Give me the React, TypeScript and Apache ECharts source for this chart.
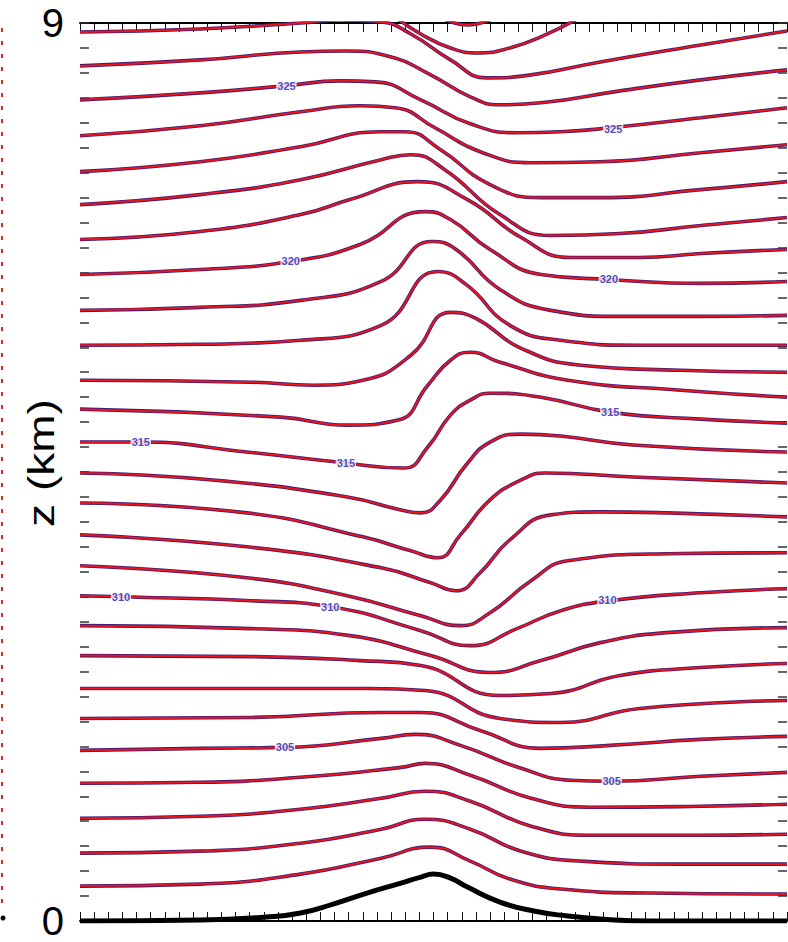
import React, { useEffect, useRef } from "react";
import * as echarts from "echarts";

// Isentropes (potential temperature, K) over a ridge: [distance km, height km]
const theta301: [number, number][] = [[-250, 0.35], [-165, 0.37], [-94, 0.47], [-37, 0.63], [-2, 0.74], [26, 0.6], [54, 0.42], [90, 0.32], [153, 0.28], [250, 0.27]];
const theta302: [number, number][] = [[-250, 0.68], [-165, 0.7], [-94, 0.78], [-37, 0.92], [-6, 1.02], [26, 0.92], [62, 0.7], [104, 0.6], [175, 0.57], [250, 0.57]];
const theta303: [number, number][] = [[-250, 1.03], [-165, 1.05], [-94, 1.12], [-37, 1.23], [-6, 1.3], [26, 1.2], [69, 0.95], [111, 0.86], [189, 0.86], [250, 0.87]];
const theta304: [number, number][] = [[-250, 1.38], [-165, 1.39], [-94, 1.44], [-23, 1.54], [-6, 1.58], [26, 1.46], [69, 1.23], [111, 1.14], [189, 1.15], [250, 1.17]];
const theta305: [number, number][] = [[-250, 1.71], [-165, 1.73], [-105, 1.74], [-37, 1.83], [-13, 1.87], [19, 1.76], [62, 1.53], [97, 1.41], [125, 1.4], [189, 1.45], [250, 1.49]];
const theta306: [number, number][] = [[-250, 2.03], [-129, 2.04], [-37, 2.09], [-9, 2.09], [33, 1.91], [76, 1.73], [125, 1.76], [189, 1.82], [250, 1.85]];
const theta307: [number, number][] = [[-250, 2.33], [-129, 2.33], [-45, 2.33], [-6, 2.31], [47, 2.03], [90, 1.99], [146, 2.13], [250, 2.21]];
const theta308: [number, number][] = [[-250, 2.66], [-129, 2.65], [-52, 2.61], [-9, 2.56], [47, 2.26], [83, 2.28], [132, 2.46], [189, 2.54], [250, 2.58]];
const theta309: [number, number][] = [[-250, 2.96], [-129, 2.93], [-59, 2.86], [-2, 2.66], [40, 2.49], [76, 2.61], [118, 2.79], [165, 2.89], [250, 2.94]];
const theta310: [number, number][] = [[-250, 3.26], [-221, 3.25], [-129, 3.21], [-73, 3.15], [-9, 2.91], [26, 2.76], [59, 2.93], [90, 3.11], [125, 3.21], [189, 3.29], [250, 3.33]];
const theta311: [number, number][] = [[-250, 3.56], [-132, 3.44], [-61, 3.26], [-9, 3.06], [19, 2.96], [40, 3.09], [69, 3.41], [95, 3.61], [165, 3.68], [250, 3.69]];
const theta312: [number, number][] = [[-250, 3.87], [-132, 3.75], [-37, 3.54], [-2, 3.39], [16, 3.31], [33, 3.49], [54, 3.82], [83, 4.07], [118, 4.1], [165, 4.09], [250, 4.05]];
const theta313: [number, number][] = [[-250, 4.19], [-132, 4.09], [-50, 3.85], [-16, 3.71], [3, 3.64], [19, 3.87], [40, 4.22], [62, 4.42], [79, 4.49], [141, 4.45], [250, 4.39]];
const theta314: [number, number][] = [[-250, 4.49], [-156, 4.42], [-61, 4.25], [-23, 4.12], [-9, 4.09], [5, 4.22], [23, 4.57], [40, 4.8], [62, 4.88], [90, 4.86], [141, 4.77], [250, 4.7]];
const theta315: [number, number][] = [[-250, 4.8], [-207, 4.8], [-132, 4.7], [-68, 4.6], [-21, 4.54], [-4, 4.75], [12, 5.07], [26, 5.22], [40, 5.29], [76, 5.25], [125, 5.1], [189, 5.03], [250, 4.99]];
const theta316: [number, number][] = [[-250, 5.13], [-108, 5.05], [-61, 4.97], [-25, 5.02], [-4, 5.37], [12, 5.62], [26, 5.7], [47, 5.6], [95, 5.42], [175, 5.32], [250, 5.25]];
const theta317: [number, number][] = [[-250, 5.42], [-129, 5.4], [-85, 5.37], [-50, 5.42], [-16, 5.67], [12, 6.1], [30, 6.04], [62, 5.74], [104, 5.57], [175, 5.52], [250, 5.5]];
const theta318: [number, number][] = [[-250, 5.77], [-165, 5.78], [-94, 5.82], [-37, 5.97], [3, 6.51], [23, 6.38], [54, 5.97], [90, 5.82], [146, 5.77], [250, 5.77]];
const theta319: [number, number][] = [[-250, 6.12], [-165, 6.15], [-94, 6.22], [-37, 6.41], [-1, 6.81], [16, 6.73], [47, 6.33], [83, 6.12], [132, 6.06], [189, 6.06], [250, 6.07]];
const theta320: [number, number][] = [[-250, 6.48], [-165, 6.53], [-101, 6.61], [-52, 6.78], [-6, 7.11], [12, 7.03], [40, 6.73], [76, 6.48], [124, 6.43], [189, 6.39], [250, 6.41]];
const theta321: [number, number][] = [[-250, 6.83], [-165, 6.91], [-94, 7.08], [-59, 7.23], [-11, 7.41], [24, 7.23], [62, 6.85], [97, 6.65], [146, 6.65], [189, 6.69], [250, 6.73]];
const theta322: [number, number][] = [[-250, 7.18], [-165, 7.28], [-94, 7.43], [-37, 7.63], [-16, 7.68], [8, 7.53], [47, 7.08], [83, 6.87], [132, 6.89], [189, 6.97], [250, 7.05]];
const theta323: [number, number][] = [[-250, 7.51], [-165, 7.61], [-94, 7.76], [-37, 7.91], [-20, 7.91], [5, 7.73], [40, 7.38], [76, 7.25], [118, 7.25], [189, 7.33], [250, 7.41]];
const theta324: [number, number][] = [[-250, 7.87], [-165, 7.97], [-94, 8.11], [-52, 8.17], [-27, 8.15], [1, 7.95], [33, 7.71], [69, 7.6], [118, 7.61], [189, 7.7], [250, 7.78]];
const theta325: [number, number][] = [[-250, 8.23], [-165, 8.3], [-105, 8.37], [-66, 8.42], [-41, 8.41], [-9, 8.23], [26, 7.99], [59, 7.9], [90, 7.91], [125, 7.95], [189, 8.05], [250, 8.15]];
const theta326: [number, number][] = [[-250, 8.57], [-165, 8.63], [-94, 8.71], [-62, 8.72], [-30, 8.66], [-2, 8.48], [26, 8.26], [47, 8.18], [76, 8.2], [132, 8.32], [189, 8.43], [250, 8.53]];
const theta327: [number, number][] = [[-250, 8.91], [-165, 8.94], [-94, 9.0], [-66, 9.03], [-37, 9.01], [-16, 8.89], [12, 8.63], [38, 8.45], [69, 8.48], [118, 8.61], [189, 8.78], [250, 8.92]];
const theta328: [number, number][] = [[-27, 9.06], [-9, 8.89], [12, 8.75], [31, 8.7], [54, 8.75], [79, 8.88], [104, 9.06]];
const theta329: [number, number][] = [[5, 9.06], [24, 8.98], [44, 9.06]];

const isentropes: { theta: number; points: [number, number][] }[] = [
  { theta: 301, points: theta301 }, { theta: 302, points: theta302 }, { theta: 303, points: theta303 },
  { theta: 304, points: theta304 }, { theta: 305, points: theta305 }, { theta: 306, points: theta306 },
  { theta: 307, points: theta307 }, { theta: 308, points: theta308 }, { theta: 309, points: theta309 },
  { theta: 310, points: theta310 }, { theta: 311, points: theta311 }, { theta: 312, points: theta312 },
  { theta: 313, points: theta313 }, { theta: 314, points: theta314 }, { theta: 315, points: theta315 },
  { theta: 316, points: theta316 }, { theta: 317, points: theta317 }, { theta: 318, points: theta318 },
  { theta: 319, points: theta319 }, { theta: 320, points: theta320 }, { theta: 321, points: theta321 },
  { theta: 322, points: theta322 }, { theta: 323, points: theta323 }, { theta: 324, points: theta324 },
  { theta: 325, points: theta325 }, { theta: 326, points: theta326 }, { theta: 327, points: theta327 },
  { theta: 328, points: theta328 }, { theta: 329, points: theta329 },
];

// Ridge profile (terrain height, km)
const terrain: [number, number][] = [[-250, 0], [-165, 0.01], [-118, 0.04], [-94, 0.08], [-71, 0.17], [-47, 0.28], [-23, 0.38], [-9, 0.44], [0, 0.47], [12, 0.43], [24, 0.34], [47, 0.19], [71, 0.1], [95, 0.05], [118, 0.02], [153, 0], [250, 0]];

// Contour labels: [distance km, height km, theta K]
const contourLabels: [number, number, number][] = [
  [-104, 8.37, 325], [-101, 6.61, 320], [-207, 4.8, 315], [-62, 4.59, 315], [-221, 3.25, 310],
  [-73, 3.15, 310], [-105, 1.74, 305],
  [127, 7.94, 325], [124, 6.43, 320], [125, 5.1, 315], [123, 3.22, 310], [126, 1.4, 305],
];

const RED = "#e6141d";
const UNDER = "#3b1f78";
const FONT = "'Liberation Sans', Arial, sans-serif";
const SMOOTH = 0.5;

export default function App() {
  const ref = useRef<HTMLDivElement>(null);

  useEffect(() => {
    if (!ref.current) return;
    const chart = echarts.init(ref.current, undefined, { renderer: "svg" });

    const lineSeries: any[] = [];
    isentropes.forEach((iso) => {
      lineSeries.push({
        name: `u${iso.theta}`,
        type: "line",
        data: iso.points,
        smooth: SMOOTH,
        showSymbol: false,
        symbol: "none",
        silent: true,
        z: 2,
        lineStyle: { color: UNDER, width: 3.6 },
      });
      lineSeries.push({
        name: `t${iso.theta}`,
        type: "line",
        data: iso.points,
        smooth: SMOOTH,
        showSymbol: false,
        symbol: "none",
        silent: true,
        z: 3,
        lineStyle: { color: RED, width: 2 },
      });
    });

    const xAxisBase = {
      type: "value",
      min: -250,
      max: 250,
      interval: 10,
      axisLine: { show: true, onZero: false, lineStyle: { color: "#000", width: 2 } },
      axisTick: { show: true, inside: true, length: 9, lineStyle: { color: "#111", width: 1 } },
      axisLabel: { show: false },
      splitLine: { show: false },
    };
    const yAxisBase = {
      type: "value",
      min: 0,
      max: 9,
      interval: 0.25,
      axisLine: { show: false, onZero: false },
      axisTick: { show: true, inside: true, length: 9, lineStyle: { color: "#333", width: 1.5 } },
      splitLine: { show: false },
    };

    chart.setOption({
      animation: false,
      backgroundColor: "#fff",
      grid: { left: 80, right: 1, top: 23, bottom: 21, containLabel: false },
      xAxis: [
        { ...xAxisBase, position: "bottom" },
        { ...xAxisBase, position: "top" },
      ],
      yAxis: [
        {
          ...yAxisBase,
          position: "left",
          axisLabel: {
            show: true,
            margin: 16,
            fontSize: 40,
            fontFamily: FONT,
            color: "#000",
            showMinLabel: true,
            showMaxLabel: true,
            formatter: (v: number) => (v === 0 || v === 9 ? String(v) : ""),
          },
        },
        { ...yAxisBase, position: "right", axisLabel: { show: false } },
      ],
      series: [
        ...lineSeries,
        {
          name: "terrain",
          type: "line",
          data: terrain,
          smooth: SMOOTH,
          showSymbol: false,
          symbol: "none",
          silent: true,
          z: 4,
          lineStyle: { color: "#000", width: 5 },
        },
        {
          name: "labels",
          type: "scatter",
          data: contourLabels,
          symbolSize: 1,
          itemStyle: { color: "rgba(0,0,0,0)" },
          silent: true,
          z: 5,
          label: {
            show: true,
            position: "inside",
            formatter: (p: any) => String(p.value[2]),
            color: "#1c1cb4",
            fontSize: 11,
            fontWeight: "bold",
            fontFamily: FONT,
            backgroundColor: "#fff",
            padding: [0, 1],
          },
        },
      ],
      graphic: [
        {
          type: "text",
          x: 42,
          y: 463,
          rotation: Math.PI / 2,
          scaleX: 1.28,
          style: {
            text: "z (km)",
            fontSize: 36,
            fontFamily: FONT,
            fill: "#000",
            align: "center",
            verticalAlign: "middle",
          },
        },
        {
          type: "line",
          shape: { x1: 2, y1: 28, x2: 2, y2: 905 },
          style: { stroke: "#d02a2a", lineWidth: 2, lineDash: [4, 9] },
        },
        {
          type: "circle",
          shape: { cx: 3, cy: 918, r: 2.5 },
          style: { fill: "#000" },
        },
      ],
    });

    return () => chart.dispose();
  }, []);

  return (
    <div
      ref={ref}
      style={{ position: "fixed", left: 0, top: 0, width: 788, height: 942, background: "#fff" }}
    />
  );
}
